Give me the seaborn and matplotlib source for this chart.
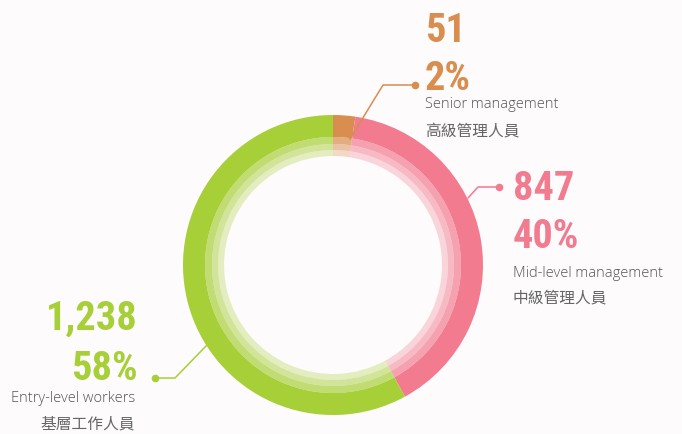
import matplotlib
matplotlib.use('Agg')
import matplotlib.pyplot as plt
import seaborn as sns

# data
labels_en = ['Senior management', 'Mid-level management', 'Entry-level workers']
labels_zh = ['高級管理人員', '中級管理人員', '基層工作人員']
counts = [51, 847, 1238]
count_text = ['51', '847', '1,238']
pct_text = ['2%', '40%', '58%']
colors = ['#d98d4e', '#f27b90', '#a7cf38']

sns.set_theme(style='white')
plt.rcParams['font.family'] = ['Open Sans', 'Noto Sans CJK TC', 'DejaVu Sans']

bg = '#fdfbfb'
fig = plt.figure(figsize=(6.82, 4.35), dpi=100, facecolor=bg)
ax = fig.add_axes([0, 0, 1, 1])
ax.set_facecolor(bg)

# ring: outer solid band + three fading inner bands
cx, cy = 333, 266
bands = [(150, 22, 1.0), (128, 7, 0.7), (121, 6, 0.5), (115, 6, 0.3)]
for r, w, a in bands:
    ax.pie(counts, colors=colors, radius=r, center=(cx, cy), startangle=-90,
           counterclock=True,
           wedgeprops={'width': w, 'alpha': a, 'linewidth': 0})

ax.set_xlim(0, 682)
ax.set_ylim(435, 0)
ax.set_aspect('auto')
ax.axis('off')

# leader lines (dot, elbow, end on ring)
leaders = [
    [(415, 86), (383, 86), (350, 140)],
    [(499, 188), (478, 188), (468, 199)],
    [(155, 379), (175, 379), (207, 346)],
]
for pts, c in zip(leaders, colors):
    xs = [p[0] for p in pts]
    ys = [p[1] for p in pts]
    ax.plot(xs, ys, color=c, lw=1.1, solid_capstyle='round')
    ax.plot(xs[0], ys[0], 'o', color=c, ms=5.5, mec='none')

# text blocks
num_font = ['Roboto Condensed', 'DejaVu Sans Condensed', 'DejaVu Sans']
blocks = [
    dict(x=425, nx=425, ha='left', ys=(42, 90, 108, 135)),
    dict(x=513, nx=513, ha='left', ys=(200, 248, 277, 302)),
    dict(x=135, nx=138, ha='right', ys=(330, 380, 402, 428)),
]
for i, b in enumerate(blocks):
    c = colors[i]
    ax.text(b['nx'], b['ys'][0], count_text[i], ha=b['ha'], va='baseline',
            fontsize=29, fontweight='bold', fontstretch='condensed',
            color=c, family=num_font)
    ax.text(b['nx'], b['ys'][1], pct_text[i], ha=b['ha'], va='baseline',
            fontsize=29, fontweight='bold', fontstretch='condensed',
            color=c, family=num_font)
    ax.text(b['x'], b['ys'][2], labels_en[i], ha=b['ha'], va='baseline',
            fontsize=10.5, fontweight='light', color='#555555')
    ax.text(b['x'], b['ys'][3], labels_zh[i], ha=b['ha'], va='baseline',
            fontsize=11.3, fontweight='light', color='#666666',
            family=['Noto Sans CJK TC', 'DejaVu Sans'])

fig.savefig('out.png', dpi=100, facecolor=bg)
